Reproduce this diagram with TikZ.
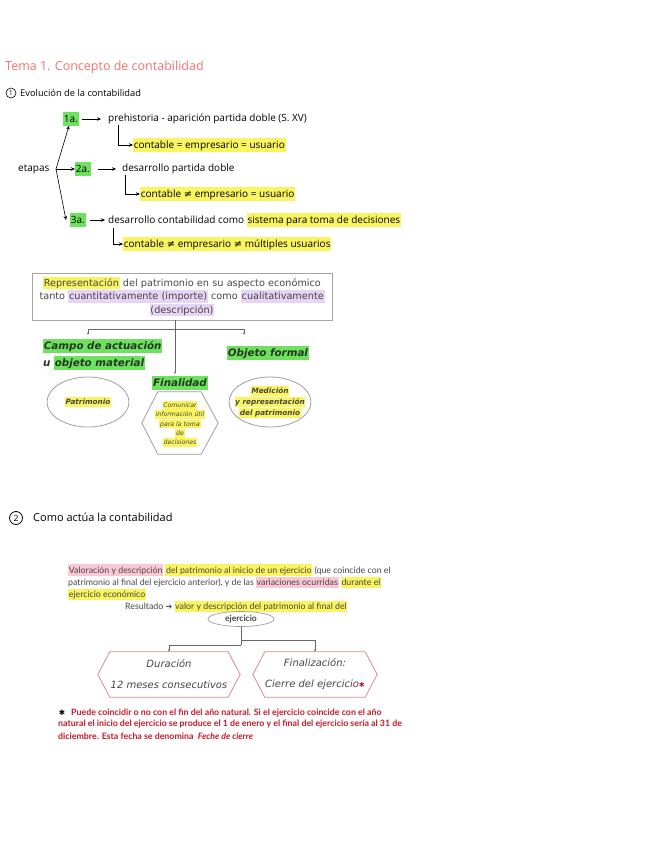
\documentclass[tikz,border=0pt]{standalone}
\usepackage{fontspec}
\setmainfont{Open Sans}
\newfontfamily\hwf{Open Sans}
\newfontfamily\boxf{DejaVu Sans}
\newfontfamily\parf{Lato}
\newfontfamily\symf{DejaVu Sans}
\usetikzlibrary{arrows.meta,shapes.geometric}
\definecolor{salmon}{RGB}{245,115,115}
\definecolor{hlgreen}{RGB}{110,225,95}
\definecolor{hlyellow}{RGB}{250,245,95}
\definecolor{hllav}{RGB}{232,212,245}
\definecolor{hlpink}{RGB}{250,200,215}
\definecolor{txtgray}{RGB}{70,70,70}
\definecolor{hexred}{RGB}{215,140,140}
\definecolor{notered}{RGB}{200,25,40}
\definecolor{dkgreen}{RGB}{35,55,35}
\newcommand\hlb[2]{{\setlength{\fboxsep}{0.7pt}\colorbox{#1}{\vphantom{Ág}#2}}}
\begin{document}
\begin{tikzpicture}[x=1pt,y=-1pt,
  hw/.style={font=\hwf\fontsize{10}{11}\selectfont, inner sep=0pt, anchor=west},
  harr/.style={-{Stealth[length=4pt,width=3.5pt]}, line width=0.6pt},
  garr/.style={-{Stealth[length=2.5pt,width=2pt]}, line width=0.5pt, draw=gray!80!black},
  gline/.style={line width=0.5pt, draw=gray!80!black},
  bi/.style={font=\boxf\bfseries\itshape\fontsize{10.3}{12}\selectfont, text=dkgreen, inner sep=0pt},
  oval/.style={ellipse, draw=gray!75, line width=0.8pt},
  small/.style={font=\boxf\bfseries\itshape\fontsize{7.3}{11}\selectfont, text=txtgray, inner sep=0pt, align=center},
  par/.style={font=\parf\fontsize{8.8}{9}\selectfont, text=txtgray, inner sep=0pt, anchor=west},
  note/.style={font=\parf\bfseries\fontsize{8.8}{9}\selectfont, text=notered, inner sep=0pt, anchor=west},
  hexlab/.style={font=\boxf\itshape\fontsize{10}{21}\selectfont, text=txtgray, inner sep=0pt, align=center}
]
\fill[white] (0,0) rectangle (656,848);
\useasboundingbox (0,0) rectangle (656,848);

% ---- title
\node[inner sep=0pt, anchor=west, text=salmon, font=\hwf\fontsize{12.5}{14}\selectfont] (title) at (5,67) {Tema 1. Concepto de contabilidad};
\node[circle, draw, line width=0.6pt, inner sep=0pt, minimum size=10pt, font=\hwf\fontsize{7}{8}\selectfont] (c1) at (11,93) {1};
\node[hw, font=\hwf\fontsize{9.3}{10}\selectfont] (s1) at (20,93) {Evolución de la contabilidad};

% ---- etapas
\node[hw] (et) at (18,169) {etapas};
\coordinate (br) at (56,169);
\node[hw] (a1) at (63,119) {\hlb{hlgreen}{1a.}};
\node[hw] (p1) at (108,119) {prehistoria - aparición partida doble (S. XV)};
\node[hw] (u1) at (133,145) {\hlb{hlyellow}{contable = empresario = usuario}};
\node[hw] (a2) at (75,169) {\hlb{hlgreen}{2a.}};
\node[hw] (p2) at (122,169) {desarrollo partida doble};
\node[hw] (u2) at (140,194) {\hlb{hlyellow}{contable {\symf ≠} empresario = usuario}};
\node[hw] (a3) at (70,220) {\hlb{hlgreen}{3a.}};
\node[hw] (p3) at (108,220) {desarrollo contabilidad como \hlb{hlyellow}{sistema para toma de decisiones}};
\node[hw] (u3) at (123,244) {\hlb{hlyellow}{contable {\symf ≠} empresario {\symf ≠} múltiples usuarios}};

\draw[harr] (br) -- ([xshift=6pt]a1.south west);
\draw[harr] (br) -- (a2.west);
\draw[harr] (br) -- ([xshift=-4pt]a3.west);
\draw[harr, shorten <=3pt, shorten >=7pt] (a1.east) -- (p1.west);
\draw[harr, shorten <=7pt, shorten >=6pt] (a2.east) -- (p2.west);
\draw[harr, shorten <=4pt, shorten >=3pt] (a3.east) -- (p3.west);
\draw[harr] ([xshift=10pt,yshift=-1pt]p1.south west) |- (u1.west);
\draw[harr] ([xshift=3pt,yshift=-1pt]p2.south west) |- (u2.west);
\draw[harr] ([xshift=5pt,yshift=-1pt]p3.south west) |- (u3.west);

% ---- representación
\node[draw=gray!70, line width=0.9pt, minimum width=300pt, minimum height=47pt, inner sep=2pt, text width=294pt, align=center,
  font=\boxf\fontsize{9.7}{13.3}\selectfont, text=txtgray] (rep) at (182,296.5)
  {\hlb{hlyellow}{Representación} del patrimonio en su aspecto económico\\
   tanto \hlb{hllav}{cuantitativamente (importe)} como \hlb{hllav}{cualitativamente}\\
   \hlb{hllav}{(descripción)}};
\coordinate (rb) at (175,320);
\coordinate (hl) at (88,329);
\coordinate (hr) at (244,329);
\coordinate (hlb) at (88,335);
\coordinate (hrb) at (244,335);
\coordinate (ft) at (175,374);
\draw[gline] (hl) -- (hr);
\draw[garr] (hl) -- (hlb);
\draw[garr] (hr) -- (hrb);
\draw[garr] (rb) -- (ft);

\node[bi, anchor=west] (campo) at (43,346) {\hlb{hlgreen}{Campo de actuación}};
\node[bi, anchor=west] (mat) at (43,363) {u \hlb{hlgreen}{objeto material}};
\node[bi, anchor=west] (form) at (227,353) {\hlb{hlgreen}{Objeto formal}};
\node[bi] (fin) at (180,383) {\hlb{hlgreen}{Finalidad}};

\node[oval, minimum width=82pt, minimum height=50pt] (pat) at (88,402) {};
\node[small] (patt) at (pat.center) {\hlb{hlyellow}{Patrimonio}};
\node[oval, minimum width=82pt, minimum height=50pt] (med) at (270,402) {};
\node[small] (medt) at (270,402)
  {\hlb{hlyellow}{Medición}\\\hlb{hlyellow}{y representación}\\\hlb{hlyellow}{del patrimonio}};

\node[minimum width=76pt, minimum height=62pt, inner sep=0pt] (hex) at (180,423) {};
\draw[draw=gray!75, line width=0.8pt] (hex.west) -- ([xshift=16pt]hex.north west) -- ([xshift=-17pt]hex.north east)
  -- (hex.east) -- ([xshift=-17pt]hex.south east) -- ([xshift=16pt]hex.south west) -- cycle;
\node[font=\boxf\itshape\fontsize{6.2}{9.3}\selectfont, text=txtgray, inner sep=0pt, align=center] (hext) at (180,424)
  {\hlb{hlyellow}{Comunicar}\\\hlb{hlyellow}{información útil}\\\hlb{hlyellow}{para la toma}\\\hlb{hlyellow}{de}\\\hlb{hlyellow}{decisiones}};

% ---- section 2
\node[circle, draw, line width=0.8pt, inner sep=0pt, minimum size=13pt, font=\hwf\fontsize{8.5}{9}\selectfont] (c2) at (16,518) {2};
\node[hw, font=\hwf\fontsize{11}{12}\selectfont] (s2) at (33,517) {Como actúa la contabilidad};

\node[par] (l1) at (68,570) {\hlb{hlpink}{Valoración y descripción} \hlb{hlyellow}{del patrimonio al inicio de un ejercicio} (que coincide con el};
\node[par] (l2) at (68,582.5) {patrimonio al final del ejercicio anterior), y de las \hlb{hlpink}{variaciones ocurridas} \hlb{hlyellow}{durante el}};
\node[par] (l3) at (68,594.5) {\hlb{hlyellow}{ejercicio económico}};
\node[par] (l4) at (125,606.5) {Resultado {\symf\fontsize{8}{9}\selectfont ➔} \hlb{hlyellow}{valor y descripción del patrimonio al final del}};
\node[ellipse, draw=gray!75, line width=0.7pt, minimum width=66pt, minimum height=15pt, inner sep=0pt,
  font=\parf\bfseries\fontsize{8.5}{9}\selectfont, text=txtgray] (ej) at (241,619) {ejercicio};

\node[hexlab, minimum width=142pt, minimum height=45pt] (dur) at (169,674.5) {Duración\\12 meses consecutivos};
\draw[draw=hexred, line width=0.8pt] (dur.west) -- ([xshift=12pt]dur.north west) -- ([xshift=-12pt]dur.north east)
  -- (dur.east) -- ([xshift=-12pt]dur.south east) -- ([xshift=12pt]dur.south west) -- cycle;
\node[hexlab, minimum width=124pt, minimum height=45pt] (cie) at (315,674.5) {Finalización:\\Cierre del ejercicio{\color{notered}\symf\fontsize{7}{8}\selectfont ✱}};
\draw[draw=hexred, line width=0.8pt] (cie.west) -- ([xshift=12pt]cie.north west) -- ([xshift=-12pt]cie.north east)
  -- (cie.east) -- ([xshift=-12pt]cie.south east) -- ([xshift=12pt]cie.south west) -- cycle;
\coordinate (k1) at (241,640);
\coordinate (k2) at (241,645);
\draw[gline] (ej.south) -- (k2);
\draw[garr] (k1) -| (cie.north);
\draw[garr] (k2) -| (dur.north);

% ---- note
\node[inner sep=0pt, font=\symf\fontsize{7.5}{8}\selectfont] (ast) at (62,713) {✱};
\node[note] (n1) at (71,713) {Puede coincidir o no con el fin del año natural. Si el ejercicio coincide con el año};
\node[note] (n2) at (58,724.5) {natural el inicio del ejercicio se produce el 1 de enero y el final del ejercicio sería al 31 de};
\node[note] (n3) at (58,736) {diciembre. Esta fecha se denomina \ \textit{Feche de cierre}};
\end{tikzpicture}
\end{document}
